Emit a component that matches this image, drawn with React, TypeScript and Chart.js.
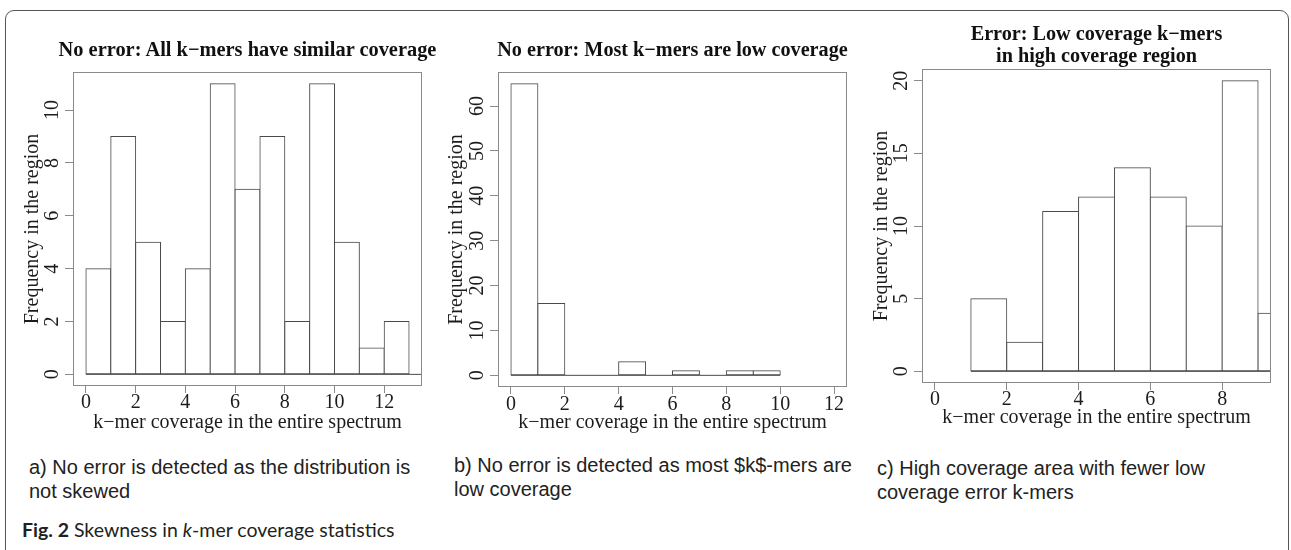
import React, { useEffect, useRef } from "react";
import { Chart, registerables } from "chart.js";

Chart.register(...registerables);

// ---------------- data ----------------
const TITLE_A = ["No error: All k\u2212mers have similar coverage"];
const EDGES_A = [0, 1, 2, 3, 4, 5, 6, 7, 8, 9, 10, 11, 12, 13, 14];
const FREQ_A = [4, 9, 5, 2, 4, 11, 7, 9, 2, 11, 5, 1, 2, 0, 0];
const XTICKS_A = [0, 2, 4, 6, 8, 10, 12];
const YTICKS_A = [0, 2, 4, 6, 8, 10];
const XRANGE_A = [-0.52, 13.52];
const YRANGE_A = [-0.44, 11.44];

const TITLE_B = ["No error: Most k\u2212mers are low coverage"];
const EDGES_B = [0, 1, 2, 3, 4, 5, 6, 7, 8, 9];
const FREQ_B = [65, 16, 0, 0, 3, 0, 1, 0, 1, 1];
const XTICKS_B = [0, 2, 4, 6, 8, 10, 12];
const YTICKS_B = [0, 10, 20, 30, 40, 50, 60];
const XRANGE_B = [-0.48, 12.48];
const YRANGE_B = [-2.6, 67.6];

const TITLE_C = ["Error: Low coverage k\u2212mers", "in high coverage region"];
const EDGES_C = [1, 2, 3, 4, 5, 6, 7, 8, 9, 10];
const FREQ_C = [5, 2, 11, 12, 14, 12, 10, 20, 4, 0];
const XTICKS_C = [0, 2, 4, 6, 8];
const YTICKS_C = [0, 5, 10, 15, 20];
const XRANGE_C = [-0.36, 9.36];
const YRANGE_C = [-0.8, 20.8];

const X_LABEL = "k\u2212mer coverage in the entire spectrum";
const Y_LABEL = "Frequency in the region";

const CAPTION_A = ["a) No error is detected as the distribution is", "not skewed"];
const CAPTION_B = ["b) No error is detected as most $k$-mers are", "low coverage"];
const CAPTION_C = ["c) High coverage area with fewer low", "coverage error k-mers"];

// ---------------- styles / layout ----------------
const SERIF = "'Liberation Serif', 'Times New Roman', serif";
const SANS = "'Liberation Sans', Arial, sans-serif";
const TEXT = "#1c1c1c";
const BAR = "#4a4a4a";
const BOX = "#8a8a8a";

type PanelCfg = {
  title: string[];
  edges: number[];
  freq: number[];
  xticks: number[];
  yticks: number[];
  xrange: number[];
  yrange: number[];
  cx: number; cy: number; cw: number; ch: number;
  box: [number, number, number, number]; // absolute l,t,r,b
  titleSize: number; titleLH: number; titleCenterY: number;
  hx: number; xTickPad: number; xTitlePad: number;
  yLabelX: number; yTitlePad: number;
};

const PANELS: PanelCfg[] = [
  {
    title: TITLE_A, edges: EDGES_A, freq: FREQ_A, xticks: XTICKS_A, yticks: YTICKS_A,
    xrange: XRANGE_A, yrange: YRANGE_A,
    cx: 0, cy: 0, cw: 432, ch: 445, box: [73, 72, 422, 386],
    titleSize: 20.4, titleLH: 22, titleCenterY: 48.5,
    hx: 50, xTickPad: 0, xTitlePad: 3, yLabelX: 53, yTitlePad: 23,
  },
  {
    title: TITLE_B, edges: EDGES_B, freq: FREQ_B, xticks: XTICKS_B, yticks: YTICKS_B,
    xrange: XRANGE_B, yrange: YRANGE_B,
    cx: 430, cy: 0, cw: 430, ch: 445, box: [498, 72, 847, 387],
    titleSize: 20.2, titleLH: 22, titleCenterY: 48.8,
    hx: 50, xTickPad: 0.5, xTitlePad: 4, yLabelX: 47.5, yTitlePad: 17,
  },
  {
    title: TITLE_C, edges: EDGES_C, freq: FREQ_C, xticks: XTICKS_C, yticks: YTICKS_C,
    xrange: XRANGE_C, yrange: YRANGE_C,
    cx: 860, cy: 0, cw: 426, ch: 445, box: [922, 69, 1271, 383],
    titleSize: 20.2, titleLH: 22.2, titleCenterY: 33.3,
    hx: 50, xTickPad: 0, xTitlePad: 5, yLabelX: 42, yTitlePad: 12,
  },
];

const boxPlugin = {
  id: "rbox",
  afterDatasetsDraw(chart: any) {
    const { ctx, chartArea: a } = chart;
    ctx.save();
    ctx.strokeStyle = BOX;
    ctx.lineWidth = 1;
    ctx.strokeRect(Math.round(a.left) + 0.5, Math.round(a.top) + 0.5,
      Math.round(a.right - a.left) - 1, Math.round(a.bottom - a.top) - 1);
    ctx.restore();
  },
};

// R-style y tick labels: parallel to the axis, centred on each tick of the library's y scale
function makeYLabelPlugin(centerX: number) {
  return {
    id: "rylabels",
    afterDraw(chart: any) {
      const { ctx } = chart;
      const ys = chart.scales.y;
      ctx.save();
      ctx.fillStyle = TEXT;
      ctx.font = `20px ${SERIF}`;
      ctx.textAlign = "center";
      ctx.textBaseline = "middle";
      ys.ticks.forEach((t: any) => {
        const py = ys.getPixelForValue(t.value);
        ctx.save();
        ctx.translate(centerX, py);
        ctx.rotate(-Math.PI / 2);
        ctx.fillText(String(t.value), 0, 0);
        ctx.restore();
      });
      ctx.restore();
    },
  };
}

function Panel({ cfg }: { cfg: PanelCfg }) {
  const ref = useRef<HTMLCanvasElement | null>(null);
  useEffect(() => {
    if (!ref.current) return;
    const L = cfg.box[0] - cfg.cx;
    const T = cfg.box[1] - cfg.cy;
    const R = cfg.box[2] - cfg.cx;
    const B = cfg.box[3] - cfg.cy;
    const barData = cfg.edges.map((e, i) => ({ x: e + 0.5, y: cfg.freq[i] }));
    const baseData = [
      { x: cfg.edges[0], y: 0 },
      { x: cfg.edges[cfg.edges.length - 1] + 1, y: 0 },
    ];
    const tickFont = { family: SERIF, size: 20, lineHeight: 1 };
    const chart = new Chart(ref.current, {
      type: "bar",
      data: {
        datasets: [
          {
            type: "bar",
            data: barData as any,
            backgroundColor: "#ffffff",
            borderColor: BAR,
            borderWidth: 1,
            borderSkipped: false,
            inflateAmount: 0.5,
            barPercentage: 1,
            categoryPercentage: 1,
            clip: 0,
          } as any,
          {
            type: "line",
            data: baseData as any,
            borderColor: BAR,
            borderWidth: 1,
            pointRadius: 0,
            clip: 0,
          } as any,
        ],
      },
      options: {
        animation: false,
        responsive: true,
        maintainAspectRatio: false,
        events: [],
        layout: {
          padding: { left: 0, top: T, right: cfg.cw - R, bottom: cfg.ch - B - cfg.hx },
        },
        plugins: {
          legend: { display: false },
          tooltip: { enabled: false },
          title: { display: false },
        },
        scales: {
          x: {
            type: "linear",
            min: cfg.xrange[0],
            max: cfg.xrange[1],
            offset: false,
            afterBuildTicks: (s: any) => { s.ticks = cfg.xticks.map((v) => ({ value: v })); },
            afterFit: (s: any) => { s.height = cfg.hx; },
            grid: { display: true, drawOnChartArea: false, drawTicks: true, tickLength: 7, color: BOX, lineWidth: 1, offset: false },
            border: { display: false },
            ticks: { font: tickFont, color: TEXT, padding: cfg.xTickPad, maxRotation: 0, autoSkip: false },
            title: { display: true, text: X_LABEL, color: TEXT, font: tickFont, padding: { top: 0, bottom: cfg.xTitlePad } },
          },
          y: {
            type: "linear",
            min: cfg.yrange[0],
            max: cfg.yrange[1],
            afterBuildTicks: (s: any) => { s.ticks = cfg.yticks.map((v) => ({ value: v })); },
            afterFit: (s: any) => { s.width = L; },
            grid: { display: true, drawOnChartArea: false, drawTicks: true, tickLength: 8, color: BOX, lineWidth: 1 },
            border: { display: false },
            ticks: { display: false, autoSkip: false },
            title: { display: true, text: Y_LABEL, color: TEXT, font: tickFont, padding: { top: cfg.yTitlePad, bottom: 0 } },
          },
        },
      } as any,
      plugins: [boxPlugin, makeYLabelPlugin(cfg.yLabelX)],
    });
    return () => chart.destroy();
  }, [cfg]);
  const centerX = (cfg.box[0] + cfg.box[2]) / 2;
  return (
    <>
      <div style={{ position: "absolute", left: cfg.cx, top: cfg.cy, width: cfg.cw, height: cfg.ch }}>
        <canvas ref={ref} />
      </div>
      <div style={{
        position: "absolute", left: centerX - 300, width: 600, top: cfg.titleCenterY - cfg.titleLH / 2,
        textAlign: "center", fontFamily: SERIF, fontWeight: 700, fontSize: cfg.titleSize,
        lineHeight: `${cfg.titleLH}px`, color: "#111", whiteSpace: "nowrap",
      }}>
        {cfg.title.map((t, i) => (<div key={i}>{t}</div>))}
      </div>
    </>
  );
}

function Caption({ lines, left, top }: { lines: string[]; left: number; top: number }) {
  return (
    <div style={{ position: "absolute", left, top, fontFamily: SANS, fontSize: 20, lineHeight: "24px", color: "#222", whiteSpace: "nowrap" }}>
      {lines.map((l, i) => (<div key={i}>{l}</div>))}
    </div>
  );
}

export default function App() {
  return (
    <div style={{ position: "fixed", left: 0, top: 0, width: 1291, height: 550, overflow: "hidden", background: "#ffffff" }}>
      <div style={{ position: "absolute", left: 5, top: 10, width: 1284, height: 620, border: "1.5px solid #555", borderRadius: 9, boxSizing: "border-box" }} />
      {PANELS.map((p, i) => (<Panel key={i} cfg={p} />))}
      <Caption lines={CAPTION_A} left={29} top={455} />
      <Caption lines={CAPTION_B} left={454} top={453} />
      <Caption lines={CAPTION_C} left={877} top={456} />
      <div style={{ position: "absolute", left: 22, top: 519, fontFamily: "Lato, 'Open Sans', sans-serif", fontSize: 19.5, lineHeight: "22px", color: "#231f20", whiteSpace: "nowrap" }}>
        <span style={{ fontWeight: 700 }}>Fig. 2</span> Skewness in <i>k</i>-mer coverage statistics
      </div>
    </div>
  );
}
